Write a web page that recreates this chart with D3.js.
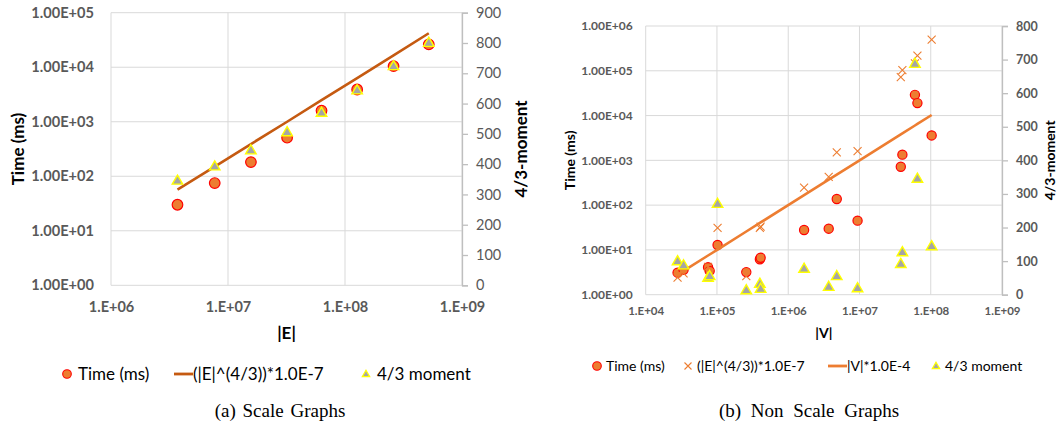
<!DOCTYPE html>
<html>
<head>
<meta charset="utf-8">
<script src="https://cdn.jsdelivr.net/npm/d3@7"></script>
<style>
body { margin: 0; background: #fff; }
svg text { font-family: Lato, "Open Sans", sans-serif; }
</style>
</head>
<body>
<svg id="chart" width="1059" height="428"></svg>
<script>
// (a) scale graphs
var scaleE = [3.7e6, 7.7e6, 1.57e7, 3.2e7, 6.3e7, 1.27e8, 2.6e8, 5.2e8];
var scaleTime = [30, 75, 182, 510, 1600, 3900, 10500, 26300];
var scaleFit = [57, 150, 390, 1000, 2500, 6300, 16500, 42000];
var scaleMoment = [344, 391, 444, 504, 568, 642, 722, 799];
var scaleXTicks = ["1.E+06", "1.E+07", "1.E+08", "1.E+09"];
var scaleYTicks = ["1.00E+00", "1.00E+01", "1.00E+02", "1.00E+03", "1.00E+04", "1.00E+05"];
var scaleY2Ticks = [0, 100, 200, 300, 400, 500, 600, 700, 800, 900];

// (b) non scale graphs
var nonV = [2.8e4, 3.4e4, 7.5e4, 7.9e4, 1.02e5, 2.58e5, 4.0e5, 4.1e5, 1.67e6, 3.7e6, 4.8e6, 9.4e6, 3.8e7, 4.0e7, 6.0e7, 6.5e7, 1.03e8];
var nonTime = [3.1, 3.6, 4.1, 3.4, 12.9, 3.2, 6.2, 6.7, 27.9, 29.8, 137, 45, 720, 1340, 29000, 19000, 3600];
var nonEFit = [2.4, 3.0, 4.2, 3.0, 31, 2.6, 31, 33, 245, 430, 1500, 1600, 72000, 104000, 147000, 217000, 495000];
var nonVFit = [2.8, 3.4, 7.5, 7.9, 10.2, 25.8, 40, 41, 167, 370, 480, 940, 3800, 4000, 6000, 6500, 10300];
var nonMoment = [98, 86, 49, 54, 269, 12, 31, 16, 76, 22, 54, 18, 90, 125, 686, 344, 143];
var nonXTicks = ["1.E+04", "1.E+05", "1.E+06", "1.E+07", "1.E+08", "1.E+09"];
var nonYTicks = ["1.00E+00", "1.00E+01", "1.00E+02", "1.00E+03", "1.00E+04", "1.00E+05", "1.00E+06"];
var nonY2Ticks = [0, 100, 200, 300, 400, 500, 600, 700, 800];

var svg = d3.select("#chart");

var circleFill = "#ED7D31", circleStroke = "#FF0000";
var triFill = "#A5A5A5", triStroke = "#FFFF00";

function drawPanel(p) {
	var g = svg.append("g");
	var xv = p.xTicks.map(Number), yv = p.yTicks.map(Number);

	var x = d3.scaleLog().domain([xv[0], xv[xv.length - 1]]).range([p.left, p.right]);
	var y = d3.scaleLog().domain([yv[0], yv[yv.length - 1]]).range([p.bottom, p.top]);
	var y2 = d3.scaleLinear().domain([0, p.y2Ticks[p.y2Ticks.length - 1]]).range([p.bottom, p.top]);

	// grid lines
	var grid = g.append("g");
	grid.selectAll(".hg").data(yv).enter().append("line")
		.attr("x1", p.left).attr("x2", p.right)
		.attr("y1", function (d) { return y(d); }).attr("y2", function (d) { return y(d); })
		.attr("stroke", "#D9D9D9").attr("stroke-width", 1);
	grid.selectAll(".vg").data(xv).enter().append("line")
		.attr("y1", p.top).attr("y2", p.bottom)
		.attr("x1", function (d) { return x(d); }).attr("x2", function (d) { return x(d); })
		.attr("stroke", "#D9D9D9").attr("stroke-width", 1);

	// left axis labels
	var ax = g.append("g").attr("transform", "translate(" + p.left + ",0)")
		.call(d3.axisLeft(y).tickValues(yv).tickFormat(function (d, i) { return p.yTicks[i]; })
			.tickSize(0).tickPadding(p.leftPad));
	ax.select(".domain").remove();
	ax.selectAll("text").attr("font-size", p.tickSize).attr("font-weight", "bold")
		.attr("fill", "#595959").style("font-family", "Lato, sans-serif");

	// bottom axis labels
	var bx = g.append("g").attr("transform", "translate(0," + p.bottom + ")")
		.call(d3.axisBottom(x).tickValues(xv).tickFormat(function (d, i) { return p.xTicks[i]; })
			.tickSize(0).tickPadding(p.bottomPad));
	bx.select(".domain").remove();
	bx.selectAll("text").attr("font-size", p.xTickSize).attr("font-weight", "bold")
		.attr("fill", "#595959").style("font-family", "Lato, sans-serif");

	// right axis
	var rx = g.append("g").attr("transform", "translate(" + p.right + ",0)")
		.call(d3.axisRight(y2).tickValues(p.y2Ticks).tickSize(6).tickPadding(8));
	rx.select(".domain").attr("stroke", "#BFBFBF").attr("stroke-width", 1.3);
	rx.selectAll("line").attr("stroke", "#BFBFBF").attr("stroke-width", 1.3);
	rx.selectAll("text").attr("font-size", p.y2Size).attr("font-weight", p.y2Weight)
		.attr("fill", "#595959").style("font-family", "Lato, sans-serif");

	// axis titles
	g.append("text").attr("transform", "translate(" + p.yTitleX + "," + ((p.top + p.bottom) / 2) + ") rotate(-90)")
		.attr("text-anchor", "middle").attr("dy", "0.35em").attr("font-size", p.titleSize)
		.attr("font-weight", "bold").attr("fill", "#000").text("Time (ms)");
	g.append("text").attr("transform", "translate(" + p.y2TitleX + "," + ((p.top + p.bottom) / 2) + ") rotate(-90)")
		.attr("text-anchor", "middle").attr("dy", "0.35em").attr("font-size", p.titleSize)
		.attr("font-weight", "bold").attr("fill", "#000").text("4/3-moment");
	g.append("text").attr("x", (p.left + p.right) / 2).attr("y", p.xTitleY)
		.attr("text-anchor", "middle").attr("font-size", p.titleSize)
		.attr("font-weight", "bold").attr("fill", "#000").text(p.xTitle);

	// time markers
	g.selectAll(".time").data(p.xs).enter().append("circle")
		.attr("cx", function (d) { return x(d); })
		.attr("cy", function (d, i) { return y(p.time[i]); })
		.attr("r", p.r).attr("fill", circleFill).attr("stroke", circleStroke).attr("stroke-width", 1.2);

	// |E|^(4/3) crosses
	if (p.crosses) {
		var c = p.cross;
		g.selectAll(".cross").data(p.xs).enter().append("path")
			.attr("transform", function (d, i) { return "translate(" + x(d) + "," + y(p.crosses[i]) + ")"; })
			.attr("d", "M" + -c + "," + -c + "L" + c + "," + c + "M" + -c + "," + c + "L" + c + "," + -c)
			.attr("stroke", "#ED7D31").attr("stroke-width", 1.1).attr("fill", "none");
	}

	// fit line
	var line = d3.line()
		.x(function (d) { return x(d); })
		.y(function (d, i) { return y(p.fit[i]); });
	g.append("path").datum(p.xs).attr("d", line)
		.attr("fill", "none").attr("stroke", p.lineColor).attr("stroke-width", 2.6);

	// 4/3 moment markers
	g.selectAll(".mom").data(p.xs).enter().append("path")
		.attr("transform", function (d, i) { return "translate(" + x(d) + "," + y2(p.moment[i]) + ")"; })
		.attr("d", d3.symbol(d3.symbolTriangle).size(p.triSize)())
		.attr("fill", triFill).attr("stroke", triStroke).attr("stroke-width", 1.4);
}

drawPanel({
	left: 111, right: 462, top: 12.7, bottom: 285.3,
	xTicks: scaleXTicks, yTicks: scaleYTicks, y2Ticks: scaleY2Ticks,
	tickSize: 14.6, xTickSize: 14.5, y2Size: 14.5, y2Weight: "normal",
	leftPad: 17, bottomPad: 16, titleSize: 17, xTitle: "|E|",
	yTitleX: 18, y2TitleX: 521, xTitleY: 339,
	xs: scaleE, time: scaleTime, fit: scaleFit, moment: scaleMoment,
	lineColor: "#C55A11", r: 5.3, triSize: 48
});

drawPanel({
	left: 645.7, right: 1002, top: 26, bottom: 294.7,
	xTicks: nonXTicks, yTicks: nonYTicks, y2Ticks: nonY2Ticks,
	tickSize: 12, xTickSize: 11.5, y2Size: 12.5, y2Weight: "bold",
	leftPad: 13, bottomPad: 12, titleSize: 14, xTitle: "|V|",
	yTitleX: 570, y2TitleX: 1050, xTitleY: 338,
	xs: nonV, time: nonTime, fit: nonVFit, moment: nonMoment, crosses: nonEFit, cross: 4,
	lineColor: "#ED7D31", r: 4.6, triSize: 48
});

// legends
function legend(items, cy, size) {
	var lg = svg.append("g");
	items.forEach(function (it) {
		if (it.type == "circle") {
			lg.append("circle").attr("cx", it.x).attr("cy", cy).attr("r", 4.3)
				.attr("fill", circleFill).attr("stroke", circleStroke).attr("stroke-width", 1.1);
		} else if (it.type == "tri") {
			lg.append("path").attr("transform", "translate(" + it.x + "," + (cy + 0.5) + ")")
				.attr("d", d3.symbol(d3.symbolTriangle).size(24)())
				.attr("fill", triFill).attr("stroke", triStroke).attr("stroke-width", 1.2);
		} else if (it.type == "cross") {
			lg.append("path").attr("transform", "translate(" + it.x + "," + cy + ")")
				.attr("d", "M-3.5,-3.5L3.5,3.5M-3.5,3.5L3.5,-3.5")
				.attr("stroke", "#ED7D31").attr("stroke-width", 1.1);
		} else {
			lg.append("line").attr("x1", it.x - 10).attr("x2", it.x + 9).attr("y1", cy).attr("y2", cy)
				.attr("stroke", it.color).attr("stroke-width", 2.8);
		}
		lg.append("text").attr("x", it.tx).attr("y", cy).attr("dy", "0.36em")
			.attr("font-size", size).attr("fill", "#000").text(it.label);
	});
}

legend([
	{ type: "circle", x: 67, tx: 78, label: "Time (ms)" },
	{ type: "line", x: 184, tx: 193, label: "(|E|^(4/3))*1.0E-7", color: "#C55A11" },
	{ type: "tri", x: 366, tx: 377, label: "4/3 moment" }
], 374, 17);

legend([
	{ type: "circle", x: 597, tx: 606, label: "Time (ms)" },
	{ type: "cross", x: 688, tx: 697, label: "(|E|^(4/3))*1.0E-7" },
	{ type: "line", x: 838, tx: 847, label: "|V|*1.0E-4", color: "#ED7D31" },
	{ type: "tri", x: 936, tx: 945, label: "4/3 moment" }
], 366, 14);

// captions
svg.append("text").attr("x", 280).attr("y", 417).attr("text-anchor", "middle")
	.style("font-family", "'Liberation Serif', 'Times New Roman', serif")
	.attr("font-size", 19).attr("word-spacing", 2).text("(a)  Scale Graphs");
svg.append("text").attr("x", 809).attr("y", 417).attr("text-anchor", "middle")
	.style("font-family", "'Liberation Serif', 'Times New Roman', serif")
	.attr("font-size", 19).attr("word-spacing", 5).text("(b)  Non Scale Graphs");
</script>
</body>
</html>
